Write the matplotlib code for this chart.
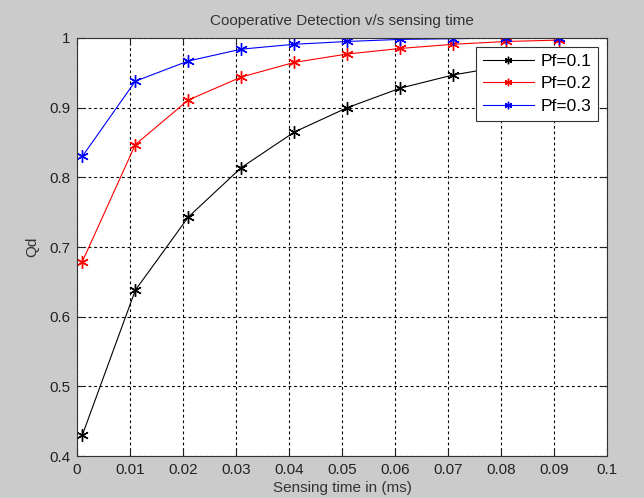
import numpy as np
import matplotlib
matplotlib.use("Agg")
import matplotlib.pyplot as plt

# sensing time (ms) and detection probability per Pf
sensing_time = [0.001, 0.011, 0.021, 0.031, 0.041, 0.051, 0.061, 0.071, 0.081, 0.091]
qd_pf01 = [0.430, 0.638, 0.743, 0.814, 0.865, 0.900, 0.928, 0.947, 0.960, 0.970]
qd_pf02 = [0.679, 0.847, 0.911, 0.944, 0.965, 0.977, 0.985, 0.991, 0.995, 0.997]
qd_pf03 = [0.830, 0.938, 0.967, 0.984, 0.991, 0.995, 0.998, 0.999, 1.000, 1.000]
labels = ["Pf=0.1", "Pf=0.2", "Pf=0.3"]
colors = ["black", "red", "blue"]

xticks = [0, 0.01, 0.02, 0.03, 0.04, 0.05, 0.06, 0.07, 0.08, 0.09, 0.1]
yticks = [0.4, 0.5, 0.6, 0.7, 0.8, 0.9, 1]


def main():
    plt.rcParams['font.family'] = ['Liberation Sans', 'DejaVu Sans']
    fig = plt.figure(figsize=(6.44, 4.98), dpi=100, facecolor='#cbcbcb')
    ax = fig.add_axes([0.1196, 0.0843, 0.8229, 0.8394])
    ax.set_facecolor('white')

    for y, lab, c in zip([qd_pf01, qd_pf02, qd_pf03], labels, colors):
        # matlab style '*' marker -> asterisk
        ax.plot(sensing_time, y, color=c, marker=(6, 2, 0), markersize=9,
                markeredgewidth=1.0, linewidth=0.8, label=lab)

    ax.set_xlim(0, 0.1)
    ax.set_ylim(0.4, 1)
    ax.set_xticks(xticks)
    ax.set_xticklabels(["0", "0.01", "0.02", "0.03", "0.04", "0.05",
                        "0.06", "0.07", "0.08", "0.09", "0.1"])
    ax.set_yticks(yticks)
    ax.set_yticklabels(["0.4", "0.5", "0.6", "0.7", "0.8", "0.9", "1"])
    ax.tick_params(direction='in', length=5, labelsize=11, colors='#222222',
                   top=True, right=True, pad=5)
    ax.grid(True, color='black', linestyle=(0, (2.5, 2.5)), linewidth=0.8)
    for s in ax.spines.values():
        s.set_color('#333333')
        s.set_linewidth(0.8)

    ax.set_title("Cooperative Detection v/s sensing time", fontsize=11,
                 color='#333333', pad=9)
    ax.set_xlabel("Sensing time in (ms)", fontsize=11, color='#333333', labelpad=3)
    ax.set_ylabel("Qd", fontsize=11, color='#333333', labelpad=7)

    leg = ax.legend(loc='upper right', fontsize=12.5, fancybox=False,
                    framealpha=1, edgecolor='#333333', handlelength=2.9,
                    borderaxespad=0.5, labelspacing=0.42, borderpad=0.4,
                    handletextpad=0.4, markerscale=0.6)
    leg.get_frame().set_linewidth(0.8)

    fig.savefig("out.png", dpi=100, facecolor=fig.get_facecolor())


if __name__ == "__main__":
    main()
